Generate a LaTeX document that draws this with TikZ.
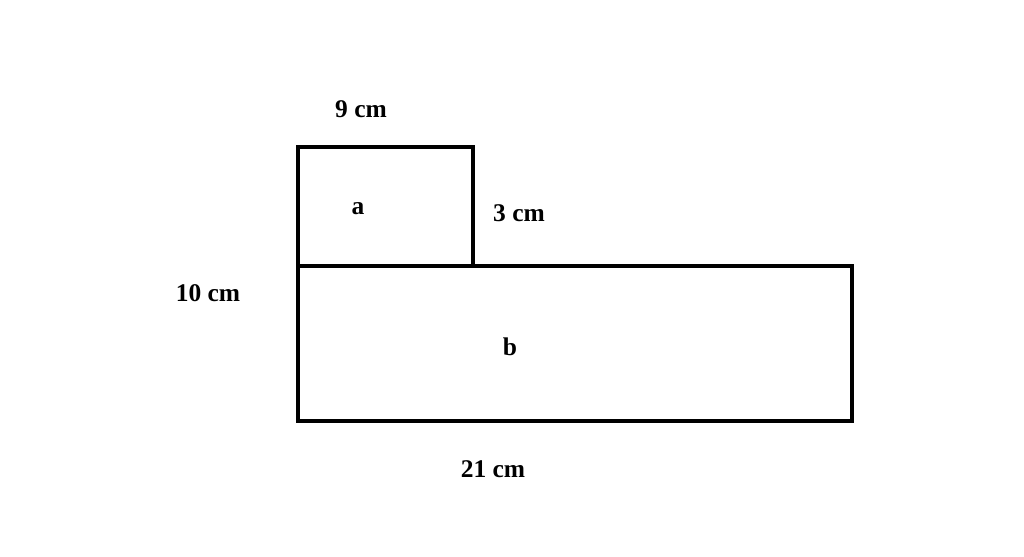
\documentclass[tikz,border=0pt]{standalone}
\usepackage{fontspec}
\setmainfont{Liberation Serif}
\usepackage{tikz}
\usetikzlibrary{positioning}

\begin{document}
\begin{tikzpicture}[
    x=0.02cm, y=-0.02cm,
    edge/.style={draw, line width=2.5pt, line join=miter},
    dim/.style={font=\fontsize{14.5}{16}\selectfont\bfseries, inner sep=0pt}
]
    \useasboundingbox (0,0) rectangle (1024,557);

    % Shapes
    \draw[edge] (298,266) -- (298,147) -- (473,147) -- (473,266);
    \draw[edge] (298,266) rectangle (852,421);

    % Part labels
    \node[dim] (a) at (358,209) {a};
    \node[dim] (b) at (510,347) {b};

    % Dimensions
    \node[dim] (top) at (361,109) {9 cm};
    \node[dim] (right) at (519,213) {3 cm};
    \node[dim] (left) at (208,293) {10 cm};
    \node[dim] (bottom) at (493,469) {21 cm};
\end{tikzpicture}
\end{document}
